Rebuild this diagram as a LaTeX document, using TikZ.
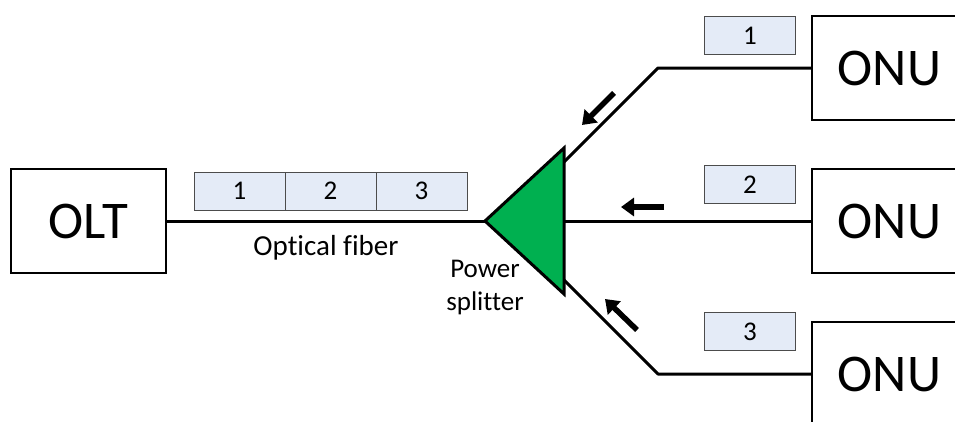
\documentclass[tikz,border=0pt]{standalone}
\usepackage{fontspec}
\setmainfont{Carlito}[Ligatures={NoCommon}]
\usetikzlibrary{arrows.meta, positioning}
\definecolor{pktbox}{RGB}{228,235,247}
\definecolor{splitgreen}{RGB}{0,176,80}

\begin{document}
\begin{tikzpicture}[
  x=1pt, y=-1pt,
  unit/.style={rectangle, draw=black, line width=1.3pt, fill=white,
    minimum width=155pt, minimum height=104pt, inner sep=0pt,
    font=\fontsize{53}{53}\selectfont},
  pkt/.style={rectangle, draw=black!70, line width=1pt, fill=pktbox,
    minimum width=91pt, minimum height=38pt, inner sep=0pt, outer sep=0pt,
    font=\fontsize{27}{27}\selectfont},
  fiber/.style={line width=3pt},
  flow/.style={-{Triangle[length=13pt,width=18pt]}, line width=5.5pt},
  note/.style={font=\fontsize{29}{33}\selectfont, align=center}
]
  \path[use as bounding box, clip] (0,0) rectangle (955,421);

  % end units
  \node[unit] (olt)  at (88.5,221) {OLT};
  \node[unit] (onuA) at (889.5,68)  {ONU};
  \node[unit] (onuB) at (889.5,221) {ONU};
  \node[unit] (onuC) at (889.5,374) {ONU};

  % splitter
  \coordinate (tip)  at (485,221);
  \coordinate (outA) at (564,162);
  \coordinate (outB) at (564,221);
  \coordinate (outC) at (564,280);
  \coordinate (bendA) at (658,68);
  \coordinate (bendC) at (658,374);

  \draw[fiber] (olt) -- (tip);
  \draw[fiber, line join=round] (outA) -- (bendA) -- (onuA.west);
  \draw[fiber] (outB) -- (onuB.west);
  \draw[fiber, line join=round] (outC) -- (bendC) -- (onuC.west);
  \filldraw[fill=splitgreen, line width=3pt, line join=miter]
    (tip) -- (564,148) -- (564,294) -- cycle;

  % packets
  \node[pkt] (pkA) at (239.5,191) {1};
  \node[pkt, right=0pt of pkA] (pkB) {2};
  \node[pkt, right=0pt of pkB] (pkC) {3};
  \node[pkt] (upA) at (750,35.5)  {1};
  \node[pkt] (upB) at (750,184.5) {2};
  \node[pkt] (upC) at (750,331.5) {3};

  %% upstream direction
  \draw[flow] (614,93) -- (582,125);
  \draw[flow] (664,207) -- (621,207);
  \draw[flow] (637,330) -- (605,299);

  \node[note] (fiberlabel) at (326,248) {Optical fiber};
  \node[note, font=\fontsize{27}{33}\selectfont] (splitlabel) at (485,288) {Power\\splitter};
\end{tikzpicture}
\end{document}
